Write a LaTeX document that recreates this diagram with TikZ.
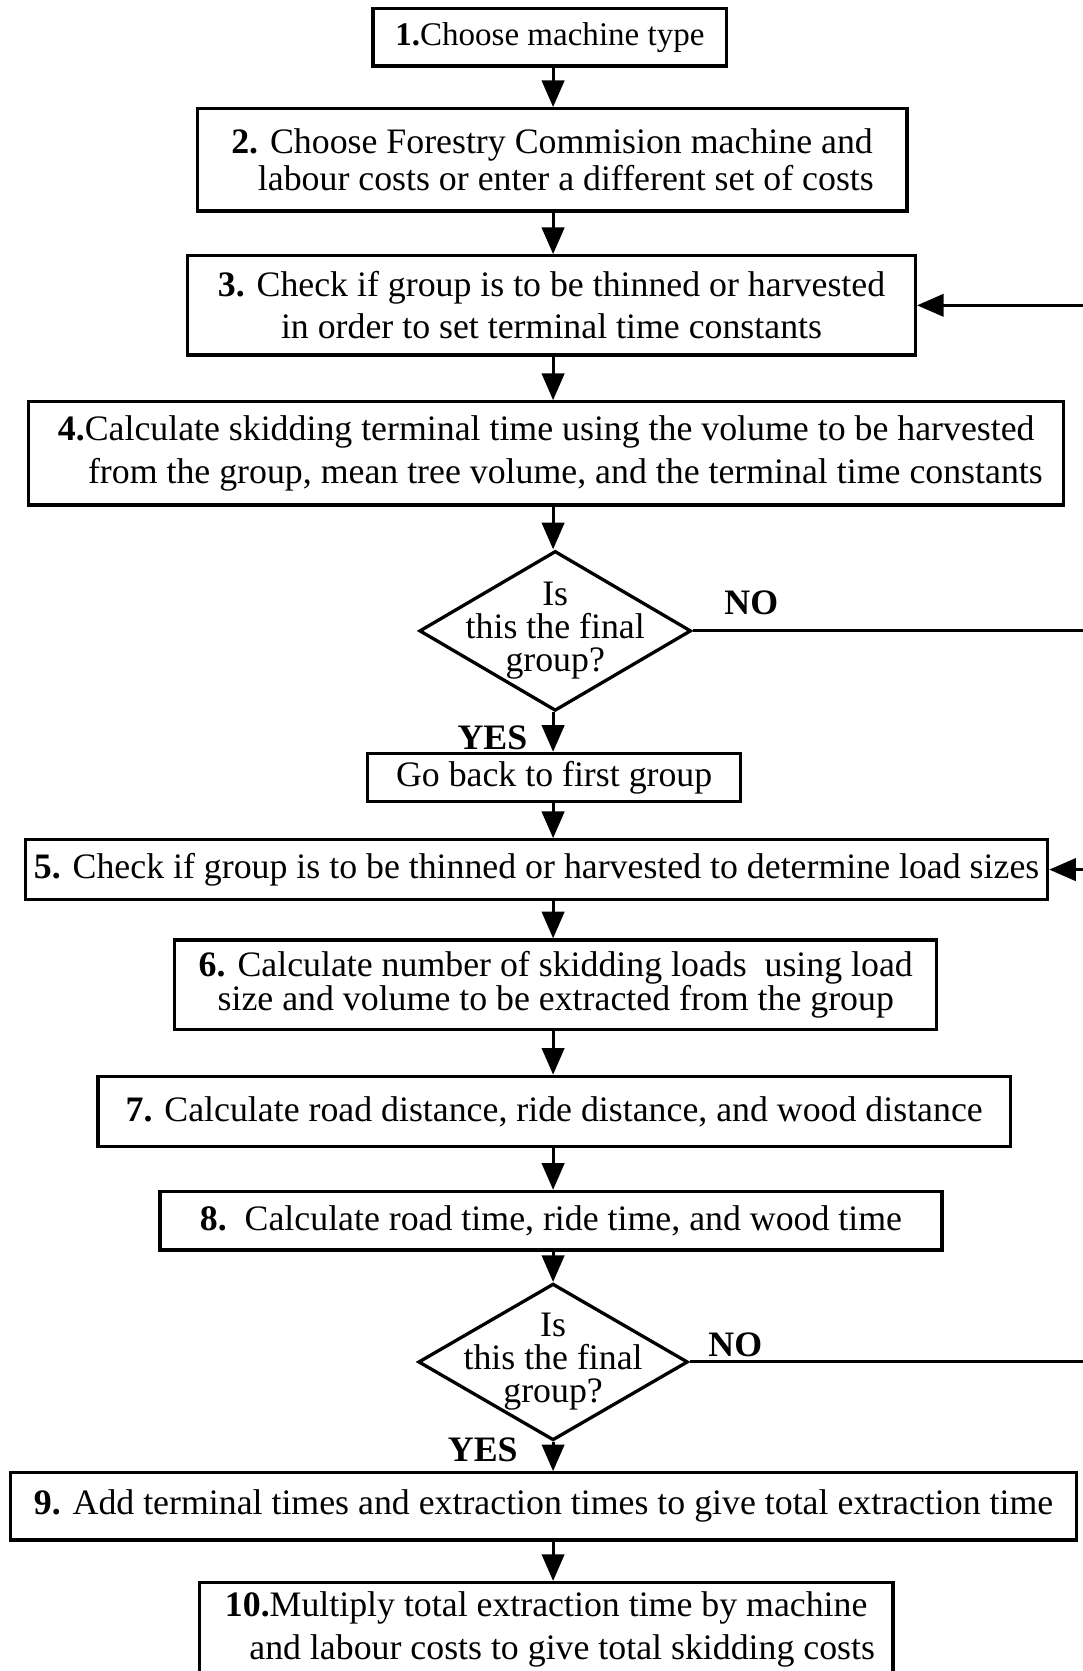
\documentclass[tikz,border=0pt]{standalone}
\usepackage{fontspec}
\setmainfont{Liberation Serif}
\usetikzlibrary{shapes.geometric,arrows.meta,positioning}

\tikzset{
  stepbox/.style={draw, line width=3.1pt, rectangle, align=center, inner sep=0pt},
  decision/.style={draw, line width=3.1pt, diamond, inner sep=0pt},
  arr/.style={line width=2.8pt, -{Triangle[width=21pt,length=25pt]}},
  answer/.style={font=\fontsize{33.6}{39}\selectfont\bfseries},
}

\begin{document}
\begin{tikzpicture}[x=1pt, y=-1pt, font=\fontsize{33.6}{39}\selectfont]
    \useasboundingbox (0,0) rectangle (1016,1568);
    \coordinate (sp) at (519,0);

    % main steps
    \node[stepbox, minimum width=332, minimum height=54, font=\fontsize{31}{36}\selectfont] (b1) at (516,35) {\textbf{1.}Choose machine type};
    \node[stepbox, minimum width=666, minimum height=96, font=\fontsize{33.6}{35}\selectfont] (b2) at (518,150)
        {\textbf{2.} Choose Forestry Commision machine and\\ \hspace*{26pt}labour costs or enter a different set of costs};
    \node[stepbox, minimum width=683, minimum height=93] (b3) at (517.5,286.5)
        {\textbf{3.} Check if group is to be thinned or harvested\\in order to set terminal time constants};
    \node[stepbox, minimum width=971, minimum height=97, font=\fontsize{33.6}{41}\selectfont] (b4) at (512.5,425.5)
        {\textbf{4.}Calculate skidding terminal time using the volume to be harvested\\ \hspace*{36pt}from the group, mean tree volume, and the terminal time constants};

    % first test
    \node[decision, minimum width=255, minimum height=150,
          label={[align=center, font=\fontsize{33.6}{31}\selectfont]center:{Is\\this the final\\group?}}] (d1) at (521,592) {};
    \node[answer] (no1) at (705,566) {NO};
    \node[answer] (yes1) at (462,692) {YES};

    \node[stepbox, minimum width=350, minimum height=45] (back) at (520,729.5) {Go back to first group};
    \node[stepbox, minimum width=959, minimum height=56] (b5) at (503.5,816)
        {\textbf{5.} Check if group is to be thinned or harvested to determine load sizes};
    \node[stepbox, minimum width=715, minimum height=84, font=\fontsize{33.6}{32}\selectfont] (b6) at (521.5,924)
        {\textbf{6.} Calculate number of skidding loads\ \ using load\\size and volume to be extracted from the group};
    \node[stepbox, minimum width=856, minimum height=66] (b7) at (520,1043)
        {\textbf{7.} Calculate road distance, ride distance, and wood distance};
    \node[stepbox, minimum width=734, minimum height=55] (b8) at (517,1145.5)
        {\textbf{8.}\ \ Calculate road time, ride time, and wood time};

    % second test
    \node[decision, minimum width=253, minimum height=147,
          label={[align=center, font=\fontsize{33.6}{31}\selectfont]center:{Is\\this the final\\group?}}] (d2) at (519,1278) {};
    \node[answer] (no2) at (690,1262) {NO};
    \node[answer] (yes2) at (453,1360) {YES};

    \node[stepbox, minimum width=1000, minimum height=63] (b9) at (510,1413.5)
        {\textbf{9.} Add terminal times and extraction times to give total extraction time};
    \node[stepbox, minimum width=651, minimum height=88, font=\fontsize{33.6}{40}\selectfont] (b10) at (512.5,1529)
        {\textbf{10.}Multiply total extraction time by machine\\ \hspace*{30pt}and labour costs to give total skidding costs};

    % downward flow
    \foreach \a/\b in {b1/b2, b2/b3, b3/b4, b4/d1, d1/back, back/b5, b5/b6, b6/b7, b7/b8, b8/d2, d2/b9, b9/b10} {
        \draw[arr] (\a.south -| sp) -- (\b.north -| sp);
    }

    % loops back (the return legs run past the right edge)
    \draw[arr] (d1.east) -- ++(420,0) |- (b3.east);
    \draw[arr] (d2.east) -- ++(430,0) |- (b5.east);
\end{tikzpicture}
\end{document}
